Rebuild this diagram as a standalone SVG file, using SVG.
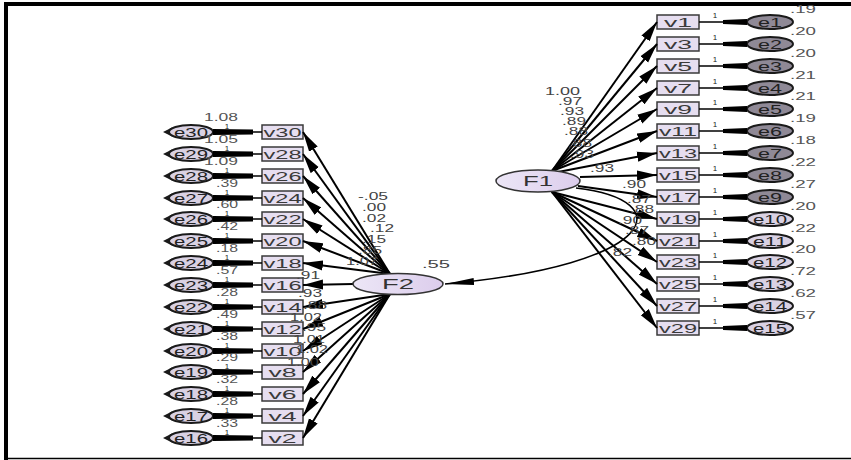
<svg xmlns="http://www.w3.org/2000/svg" width="851" height="460" viewBox="0 0 851 460">
<defs>
<style>
text{font-family:"Liberation Sans",Arial,sans-serif}
.box{fill:#e6def0;stroke:#3a3a3a;stroke-width:1.5}
.vt{font-size:13px;fill:#3a3a3a;text-anchor:middle}
.err{stroke:#1a1a1a;stroke-width:2}
.dk{fill:#8f8996}
.lt{fill:#d9d1e3}
.et{font-size:12px;fill:#222;text-anchor:middle}
.lat{fill:url(#lg);stroke:#333;stroke-width:1.5}
.lt2{font-size:14px;fill:#333;text-anchor:middle}
.one{font-size:8px;fill:#222;text-anchor:middle}
.num{font-size:10px;fill:#555}
.ld{font-size:10px;fill:#444}
.end{text-anchor:end}
.ln{stroke:#000;stroke-width:2;fill:none;marker-end:url(#ah)}
.cov{stroke:#000;stroke-width:1.5;fill:none;marker-end:url(#ah2)}
</style>
<linearGradient id="lg" x1="0" y1="0" x2="1" y2="0"><stop offset="0" stop-color="#ece6f6"/><stop offset="1" stop-color="#dccdec"/></linearGradient>
<marker id="ah" markerUnits="userSpaceOnUse" markerWidth="21" markerHeight="11" refX="20" refY="5.5" orient="auto"><path d="M0,0.5 L20,5.5 L0,10.5 Z" fill="#000"/></marker>
<marker id="ah2" markerUnits="userSpaceOnUse" markerWidth="30" markerHeight="8" refX="29" refY="4" orient="auto"><path d="M0,0.5 L29,4 L0,7.5 Z" fill="#000"/></marker>
<g id="cR"><line x1="699" y1="0" x2="723" y2="0" stroke="#000" stroke-width="1.5"/><polygon points="723,-2 747,-3 747,3 723,2" fill="#000"/></g>
<g id="cL"><polygon points="213,-3 253,-2.5 253,2.5 213,3" fill="#000"/><line x1="253" y1="0" x2="262" y2="0" stroke="#000" stroke-width="1.5"/></g>
</defs>

<g id="frame">
<rect x="4" y="2" width="847" height="4" fill="#000"/>
<rect x="4" y="2" width="4" height="458" fill="#000"/>
<line x1="4" y1="458.5" x2="851" y2="458.5" stroke="#000" stroke-width="1.5"/>
</g>

<!-- right observed variables -->
<g id="v1" transform="translate(657,15)"><rect class="box" width="42" height="14"/><text class="vt" x="21" y="12" textLength="28" lengthAdjust="spacingAndGlyphs">v1</text></g>
<g id="v3" transform="translate(657,37)"><rect class="box" width="42" height="14"/><text class="vt" x="21" y="12" textLength="28" lengthAdjust="spacingAndGlyphs">v3</text></g>
<g id="v5" transform="translate(657,59)"><rect class="box" width="42" height="14"/><text class="vt" x="21" y="12" textLength="28" lengthAdjust="spacingAndGlyphs">v5</text></g>
<g id="v7" transform="translate(657,81)"><rect class="box" width="42" height="14"/><text class="vt" x="21" y="12" textLength="28" lengthAdjust="spacingAndGlyphs">v7</text></g>
<g id="v9" transform="translate(657,102)"><rect class="box" width="42" height="14"/><text class="vt" x="21" y="12" textLength="28" lengthAdjust="spacingAndGlyphs">v9</text></g>
<g id="v11" transform="translate(657,124)"><rect class="box" width="42" height="14"/><text class="vt" x="21" y="12" textLength="38" lengthAdjust="spacingAndGlyphs">v11</text></g>
<g id="v13" transform="translate(657,146)"><rect class="box" width="42" height="14"/><text class="vt" x="21" y="12" textLength="38" lengthAdjust="spacingAndGlyphs">v13</text></g>
<g id="v15" transform="translate(657,168)"><rect class="box" width="42" height="14"/><text class="vt" x="21" y="12" textLength="38" lengthAdjust="spacingAndGlyphs">v15</text></g>
<g id="v17" transform="translate(657,190)"><rect class="box" width="42" height="14"/><text class="vt" x="21" y="12" textLength="38" lengthAdjust="spacingAndGlyphs">v17</text></g>
<g id="v19" transform="translate(657,212)"><rect class="box" width="42" height="14"/><text class="vt" x="21" y="12" textLength="38" lengthAdjust="spacingAndGlyphs">v19</text></g>
<g id="v21" transform="translate(657,234)"><rect class="box" width="42" height="14"/><text class="vt" x="21" y="12" textLength="38" lengthAdjust="spacingAndGlyphs">v21</text></g>
<g id="v23" transform="translate(657,255)"><rect class="box" width="42" height="14"/><text class="vt" x="21" y="12" textLength="38" lengthAdjust="spacingAndGlyphs">v23</text></g>
<g id="v25" transform="translate(657,277)"><rect class="box" width="42" height="14"/><text class="vt" x="21" y="12" textLength="38" lengthAdjust="spacingAndGlyphs">v25</text></g>
<g id="v27" transform="translate(657,299)"><rect class="box" width="42" height="14"/><text class="vt" x="21" y="12" textLength="38" lengthAdjust="spacingAndGlyphs">v27</text></g>
<g id="v29" transform="translate(657,321)"><rect class="box" width="42" height="14"/><text class="vt" x="21" y="12" textLength="38" lengthAdjust="spacingAndGlyphs">v29</text></g>

<!-- right errors -->
<g id="e1" transform="translate(770,22)"><ellipse class="err dk" rx="23" ry="7"/><text class="et" y="4.5" textLength="24" lengthAdjust="spacingAndGlyphs">e1</text></g>
<g id="e2" transform="translate(770,44)"><ellipse class="err dk" rx="23" ry="7"/><text class="et" y="4.5" textLength="24" lengthAdjust="spacingAndGlyphs">e2</text></g>
<g id="e3" transform="translate(770,66)"><ellipse class="err dk" rx="23" ry="7"/><text class="et" y="4.5" textLength="24" lengthAdjust="spacingAndGlyphs">e3</text></g>
<g id="e4" transform="translate(770,88)"><ellipse class="err dk" rx="23" ry="7"/><text class="et" y="4.5" textLength="24" lengthAdjust="spacingAndGlyphs">e4</text></g>
<g id="e5" transform="translate(770,109)"><ellipse class="err dk" rx="23" ry="7"/><text class="et" y="4.5" textLength="24" lengthAdjust="spacingAndGlyphs">e5</text></g>
<g id="e6" transform="translate(770,131)"><ellipse class="err dk" rx="23" ry="7"/><text class="et" y="4.5" textLength="24" lengthAdjust="spacingAndGlyphs">e6</text></g>
<g id="e7" transform="translate(770,153)"><ellipse class="err dk" rx="23" ry="7"/><text class="et" y="4.5" textLength="24" lengthAdjust="spacingAndGlyphs">e7</text></g>
<g id="e8" transform="translate(770,175)"><ellipse class="err dk" rx="23" ry="7"/><text class="et" y="4.5" textLength="24" lengthAdjust="spacingAndGlyphs">e8</text></g>
<g id="e9" transform="translate(770,197)"><ellipse class="err dk" rx="23" ry="7"/><text class="et" y="4.5" textLength="24" lengthAdjust="spacingAndGlyphs">e9</text></g>
<g id="e10" transform="translate(770,219)"><ellipse class="err lt" rx="23" ry="7"/><text class="et" y="4.5" textLength="34" lengthAdjust="spacingAndGlyphs">e10</text></g>
<g id="e11" transform="translate(770,241)"><ellipse class="err lt" rx="23" ry="7"/><text class="et" y="4.5" textLength="34" lengthAdjust="spacingAndGlyphs">e11</text></g>
<g id="e12" transform="translate(770,262)"><ellipse class="err lt" rx="23" ry="7"/><text class="et" y="4.5" textLength="34" lengthAdjust="spacingAndGlyphs">e12</text></g>
<g id="e13" transform="translate(770,284)"><ellipse class="err lt" rx="23" ry="7"/><text class="et" y="4.5" textLength="34" lengthAdjust="spacingAndGlyphs">e13</text></g>
<g id="e14" transform="translate(770,306)"><ellipse class="err lt" rx="23" ry="7"/><text class="et" y="4.5" textLength="34" lengthAdjust="spacingAndGlyphs">e14</text></g>
<g id="e15" transform="translate(770,328)"><ellipse class="err lt" rx="23" ry="7"/><text class="et" y="4.5" textLength="34" lengthAdjust="spacingAndGlyphs">e15</text></g>

<!-- left observed variables -->
<g id="v30" transform="translate(262,125)"><rect class="box" width="41" height="14"/><text class="vt" x="20.5" y="12" textLength="38" lengthAdjust="spacingAndGlyphs">v30</text></g>
<g id="v28" transform="translate(262,147)"><rect class="box" width="41" height="14"/><text class="vt" x="20.5" y="12" textLength="38" lengthAdjust="spacingAndGlyphs">v28</text></g>
<g id="v26" transform="translate(262,169)"><rect class="box" width="41" height="14"/><text class="vt" x="20.5" y="12" textLength="38" lengthAdjust="spacingAndGlyphs">v26</text></g>
<g id="v24" transform="translate(262,191)"><rect class="box" width="41" height="14"/><text class="vt" x="20.5" y="12" textLength="38" lengthAdjust="spacingAndGlyphs">v24</text></g>
<g id="v22" transform="translate(262,212)"><rect class="box" width="41" height="14"/><text class="vt" x="20.5" y="12" textLength="38" lengthAdjust="spacingAndGlyphs">v22</text></g>
<g id="v20" transform="translate(262,234)"><rect class="box" width="41" height="14"/><text class="vt" x="20.5" y="12" textLength="38" lengthAdjust="spacingAndGlyphs">v20</text></g>
<g id="v18" transform="translate(262,256)"><rect class="box" width="41" height="14"/><text class="vt" x="20.5" y="12" textLength="38" lengthAdjust="spacingAndGlyphs">v18</text></g>
<g id="v16" transform="translate(262,278)"><rect class="box" width="41" height="14"/><text class="vt" x="20.5" y="12" textLength="38" lengthAdjust="spacingAndGlyphs">v16</text></g>
<g id="v14" transform="translate(262,300)"><rect class="box" width="41" height="14"/><text class="vt" x="20.5" y="12" textLength="38" lengthAdjust="spacingAndGlyphs">v14</text></g>
<g id="v12" transform="translate(262,322)"><rect class="box" width="41" height="14"/><text class="vt" x="20.5" y="12" textLength="38" lengthAdjust="spacingAndGlyphs">v12</text></g>
<g id="v10" transform="translate(262,344)"><rect class="box" width="41" height="14"/><text class="vt" x="20.5" y="12" textLength="38" lengthAdjust="spacingAndGlyphs">v10</text></g>
<g id="v8" transform="translate(262,365)"><rect class="box" width="41" height="14"/><text class="vt" x="20.5" y="12" textLength="28" lengthAdjust="spacingAndGlyphs">v8</text></g>
<g id="v6" transform="translate(262,387)"><rect class="box" width="41" height="14"/><text class="vt" x="20.5" y="12" textLength="28" lengthAdjust="spacingAndGlyphs">v6</text></g>
<g id="v4" transform="translate(262,409)"><rect class="box" width="41" height="14"/><text class="vt" x="20.5" y="12" textLength="28" lengthAdjust="spacingAndGlyphs">v4</text></g>
<g id="v2" transform="translate(262,431)"><rect class="box" width="41" height="14"/><text class="vt" x="20.5" y="12" textLength="28" lengthAdjust="spacingAndGlyphs">v2</text></g>

<!-- left errors -->
<g id="e30" transform="translate(191,132)"><polygon points="-28,0 -19,-4.5 -19,4.5" fill="#1a1a1a"/><ellipse class="err lt" rx="22" ry="7"/><text class="et" y="4.5" textLength="34" lengthAdjust="spacingAndGlyphs">e30</text></g>
<g id="e29" transform="translate(191,154)"><polygon points="-28,0 -19,-4.5 -19,4.5" fill="#1a1a1a"/><ellipse class="err lt" rx="22" ry="7"/><text class="et" y="4.5" textLength="34" lengthAdjust="spacingAndGlyphs">e29</text></g>
<g id="e28" transform="translate(191,176)"><polygon points="-28,0 -19,-4.5 -19,4.5" fill="#1a1a1a"/><ellipse class="err lt" rx="22" ry="7"/><text class="et" y="4.5" textLength="34" lengthAdjust="spacingAndGlyphs">e28</text></g>
<g id="e27" transform="translate(191,198)"><polygon points="-28,0 -19,-4.5 -19,4.5" fill="#1a1a1a"/><ellipse class="err lt" rx="22" ry="7"/><text class="et" y="4.5" textLength="34" lengthAdjust="spacingAndGlyphs">e27</text></g>
<g id="e26" transform="translate(191,219)"><polygon points="-28,0 -19,-4.5 -19,4.5" fill="#1a1a1a"/><ellipse class="err lt" rx="22" ry="7"/><text class="et" y="4.5" textLength="34" lengthAdjust="spacingAndGlyphs">e26</text></g>
<g id="e25" transform="translate(191,241)"><polygon points="-28,0 -19,-4.5 -19,4.5" fill="#1a1a1a"/><ellipse class="err lt" rx="22" ry="7"/><text class="et" y="4.5" textLength="34" lengthAdjust="spacingAndGlyphs">e25</text></g>
<g id="e24" transform="translate(191,263)"><polygon points="-28,0 -19,-4.5 -19,4.5" fill="#1a1a1a"/><ellipse class="err lt" rx="22" ry="7"/><text class="et" y="4.5" textLength="34" lengthAdjust="spacingAndGlyphs">e24</text></g>
<g id="e23" transform="translate(191,285)"><polygon points="-28,0 -19,-4.5 -19,4.5" fill="#1a1a1a"/><ellipse class="err lt" rx="22" ry="7"/><text class="et" y="4.5" textLength="34" lengthAdjust="spacingAndGlyphs">e23</text></g>
<g id="e22" transform="translate(191,307)"><polygon points="-28,0 -19,-4.5 -19,4.5" fill="#1a1a1a"/><ellipse class="err lt" rx="22" ry="7"/><text class="et" y="4.5" textLength="34" lengthAdjust="spacingAndGlyphs">e22</text></g>
<g id="e21" transform="translate(191,329)"><polygon points="-28,0 -19,-4.5 -19,4.5" fill="#1a1a1a"/><ellipse class="err lt" rx="22" ry="7"/><text class="et" y="4.5" textLength="34" lengthAdjust="spacingAndGlyphs">e21</text></g>
<g id="e20" transform="translate(191,351)"><polygon points="-28,0 -19,-4.5 -19,4.5" fill="#1a1a1a"/><ellipse class="err lt" rx="22" ry="7"/><text class="et" y="4.5" textLength="34" lengthAdjust="spacingAndGlyphs">e20</text></g>
<g id="e19" transform="translate(191,372)"><polygon points="-28,0 -19,-4.5 -19,4.5" fill="#1a1a1a"/><ellipse class="err lt" rx="22" ry="7"/><text class="et" y="4.5" textLength="34" lengthAdjust="spacingAndGlyphs">e19</text></g>
<g id="e18" transform="translate(191,394)"><polygon points="-28,0 -19,-4.5 -19,4.5" fill="#1a1a1a"/><ellipse class="err lt" rx="22" ry="7"/><text class="et" y="4.5" textLength="34" lengthAdjust="spacingAndGlyphs">e18</text></g>
<g id="e17" transform="translate(191,416)"><polygon points="-28,0 -19,-4.5 -19,4.5" fill="#1a1a1a"/><ellipse class="err lt" rx="22" ry="7"/><text class="et" y="4.5" textLength="34" lengthAdjust="spacingAndGlyphs">e17</text></g>
<g id="e16" transform="translate(191,438)"><polygon points="-28,0 -19,-4.5 -19,4.5" fill="#1a1a1a"/><ellipse class="err lt" rx="22" ry="7"/><text class="et" y="4.5" textLength="34" lengthAdjust="spacingAndGlyphs">e16</text></g>

<g id="connectors">
<!-- F1 loadings -->
<line class="ln" x1="552" y1="171" x2="657" y2="22"/>
<line class="ln" x1="552" y1="171" x2="657" y2="44"/>
<line class="ln" x1="552" y1="171" x2="657" y2="66"/>
<line class="ln" x1="552" y1="171" x2="657" y2="88"/>
<line class="ln" x1="552" y1="171" x2="657" y2="109"/>
<line class="ln" x1="552" y1="171" x2="657" y2="131"/>
<line class="ln" x1="558" y1="172" x2="657" y2="153"/>
<line class="ln" x1="580" y1="177" x2="657" y2="175"/>
<line class="ln" x1="578" y1="186" x2="657" y2="197"/>
<line class="ln" x1="552" y1="192" x2="657" y2="219"/>
<line class="ln" x1="552" y1="192" x2="657" y2="241"/>
<line class="ln" x1="552" y1="192" x2="657" y2="262"/>
<line class="ln" x1="552" y1="192" x2="657" y2="284"/>
<line class="ln" x1="552" y1="192" x2="657" y2="306"/>
<line class="ln" x1="552" y1="192" x2="657" y2="328"/>
<!-- F2 loadings -->
<line class="ln" x1="390" y1="274" x2="303" y2="132"/>
<line class="ln" x1="390" y1="274" x2="303" y2="154"/>
<line class="ln" x1="390" y1="274" x2="303" y2="176"/>
<line class="ln" x1="390" y1="274" x2="303" y2="198"/>
<line class="ln" x1="390" y1="274" x2="303" y2="219"/>
<line class="ln" x1="390" y1="274" x2="303" y2="241"/>
<line class="ln" x1="390" y1="274" x2="303" y2="263"/>
<line class="ln" x1="353" y1="284" x2="303" y2="285"/>
<line class="ln" x1="390" y1="294" x2="303" y2="307"/>
<line class="ln" x1="390" y1="294" x2="303" y2="329"/>
<line class="ln" x1="390" y1="294" x2="303" y2="351"/>
<line class="ln" x1="390" y1="294" x2="303" y2="372"/>
<line class="ln" x1="390" y1="294" x2="303" y2="394"/>
<line class="ln" x1="390" y1="294" x2="303" y2="416"/>
<line class="ln" x1="390" y1="294" x2="303" y2="438"/>
<!-- covariance -->
<path class="cov" d="M576,188 C680,200 660,265 445,284"/>
<!-- error paths right -->
<use href="#cR" y="22"/><use href="#cR" y="44"/><use href="#cR" y="66"/><use href="#cR" y="88"/><use href="#cR" y="109"/>
<use href="#cR" y="131"/><use href="#cR" y="153"/><use href="#cR" y="175"/><use href="#cR" y="197"/><use href="#cR" y="219"/>
<use href="#cR" y="241"/><use href="#cR" y="262"/><use href="#cR" y="284"/><use href="#cR" y="306"/><use href="#cR" y="328"/>
<!-- error paths left -->
<use href="#cL" y="132"/><use href="#cL" y="154"/><use href="#cL" y="176"/><use href="#cL" y="198"/><use href="#cL" y="219"/>
<use href="#cL" y="241"/><use href="#cL" y="263"/><use href="#cL" y="285"/><use href="#cL" y="307"/><use href="#cL" y="329"/>
<use href="#cL" y="351"/><use href="#cL" y="372"/><use href="#cL" y="394"/><use href="#cL" y="416"/><use href="#cL" y="438"/>
</g>

<g id="labels">
<!-- fixed paths "1" right -->
<text class="one" x="715" y="18">1</text><text class="one" x="715" y="40">1</text><text class="one" x="715" y="62">1</text>
<text class="one" x="715" y="84">1</text><text class="one" x="715" y="105">1</text><text class="one" x="715" y="127">1</text>
<text class="one" x="715" y="149">1</text><text class="one" x="715" y="171">1</text><text class="one" x="715" y="193">1</text>
<text class="one" x="715" y="215">1</text><text class="one" x="715" y="237">1</text><text class="one" x="715" y="258">1</text>
<text class="one" x="715" y="280">1</text><text class="one" x="715" y="302">1</text><text class="one" x="715" y="324">1</text>
<!-- fixed paths "1" left -->
<text class="one" x="227" y="128.5">1</text><text class="one" x="227" y="150.5">1</text><text class="one" x="227" y="172.5">1</text>
<text class="one" x="227" y="194.5">1</text><text class="one" x="227" y="215.5">1</text><text class="one" x="227" y="237.5">1</text>
<text class="one" x="227" y="259.5">1</text><text class="one" x="227" y="281.5">1</text><text class="one" x="227" y="303.5">1</text>
<text class="one" x="227" y="325.5">1</text><text class="one" x="227" y="347.5">1</text><text class="one" x="227" y="368.5">1</text>
<text class="one" x="227" y="390.5">1</text><text class="one" x="227" y="412.5">1</text><text class="one" x="227" y="434.5">1</text>
<!-- right variances -->
<text class="num" x="790" y="13" textLength="26" lengthAdjust="spacingAndGlyphs">.19</text>
<text class="num" x="790" y="35" textLength="26" lengthAdjust="spacingAndGlyphs">.20</text>
<text class="num" x="790" y="57" textLength="26" lengthAdjust="spacingAndGlyphs">.20</text>
<text class="num" x="790" y="79" textLength="26" lengthAdjust="spacingAndGlyphs">.21</text>
<text class="num" x="790" y="100" textLength="26" lengthAdjust="spacingAndGlyphs">.21</text>
<text class="num" x="790" y="122" textLength="26" lengthAdjust="spacingAndGlyphs">.19</text>
<text class="num" x="790" y="144" textLength="26" lengthAdjust="spacingAndGlyphs">.18</text>
<text class="num" x="790" y="166" textLength="26" lengthAdjust="spacingAndGlyphs">.22</text>
<text class="num" x="790" y="188" textLength="26" lengthAdjust="spacingAndGlyphs">.27</text>
<text class="num" x="790" y="210" textLength="26" lengthAdjust="spacingAndGlyphs">.20</text>
<text class="num" x="790" y="232" textLength="26" lengthAdjust="spacingAndGlyphs">.22</text>
<text class="num" x="790" y="253" textLength="26" lengthAdjust="spacingAndGlyphs">.20</text>
<text class="num" x="790" y="275" textLength="26" lengthAdjust="spacingAndGlyphs">.72</text>
<text class="num" x="790" y="297" textLength="26" lengthAdjust="spacingAndGlyphs">.62</text>
<text class="num" x="790" y="319" textLength="26" lengthAdjust="spacingAndGlyphs">.57</text>
<!-- left variances -->
<text class="num end" x="238" y="121" textLength="34" lengthAdjust="spacingAndGlyphs">1.08</text>
<text class="num end" x="238" y="143" textLength="34" lengthAdjust="spacingAndGlyphs">1.05</text>
<text class="num end" x="238" y="165" textLength="34" lengthAdjust="spacingAndGlyphs">1.09</text>
<text class="num end" x="238" y="187" textLength="22" lengthAdjust="spacingAndGlyphs">.39</text>
<text class="num end" x="238" y="208" textLength="22" lengthAdjust="spacingAndGlyphs">.60</text>
<text class="num end" x="238" y="230" textLength="22" lengthAdjust="spacingAndGlyphs">.42</text>
<text class="num end" x="238" y="252" textLength="22" lengthAdjust="spacingAndGlyphs">.18</text>
<text class="num end" x="238" y="274" textLength="22" lengthAdjust="spacingAndGlyphs">.57</text>
<text class="num end" x="238" y="296" textLength="22" lengthAdjust="spacingAndGlyphs">.28</text>
<text class="num end" x="238" y="318" textLength="22" lengthAdjust="spacingAndGlyphs">.49</text>
<text class="num end" x="238" y="340" textLength="22" lengthAdjust="spacingAndGlyphs">.38</text>
<text class="num end" x="238" y="361" textLength="22" lengthAdjust="spacingAndGlyphs">.29</text>
<text class="num end" x="238" y="383" textLength="22" lengthAdjust="spacingAndGlyphs">.32</text>
<text class="num end" x="238" y="405" textLength="22" lengthAdjust="spacingAndGlyphs">.28</text>
<text class="num end" x="238" y="427" textLength="22" lengthAdjust="spacingAndGlyphs">.33</text>
<!-- F1 loadings -->
<text class="ld" x="545" y="95" textLength="35" lengthAdjust="spacingAndGlyphs">1.00</text>
<text class="ld" x="558" y="105" textLength="24" lengthAdjust="spacingAndGlyphs">.97</text>
<text class="ld" x="560" y="115" textLength="24" lengthAdjust="spacingAndGlyphs">.93</text>
<text class="ld" x="562" y="125" textLength="24" lengthAdjust="spacingAndGlyphs">.89</text>
<text class="ld" x="564" y="135" textLength="24" lengthAdjust="spacingAndGlyphs">.88</text>
<text class="ld" x="568" y="147" textLength="24" lengthAdjust="spacingAndGlyphs">.88</text>
<text class="ld" x="570" y="158" textLength="24" lengthAdjust="spacingAndGlyphs">.93</text>
<text class="ld" x="590" y="172" textLength="24" lengthAdjust="spacingAndGlyphs">.93</text>
<text class="ld" x="622" y="188" textLength="24" lengthAdjust="spacingAndGlyphs">.90</text>
<text class="ld" x="627" y="203" textLength="24" lengthAdjust="spacingAndGlyphs">.87</text>
<text class="ld" x="630" y="213" textLength="24" lengthAdjust="spacingAndGlyphs">.88</text>
<text class="ld" x="618" y="224" textLength="24" lengthAdjust="spacingAndGlyphs">.90</text>
<text class="ld" x="625" y="234" textLength="24" lengthAdjust="spacingAndGlyphs">.87</text>
<text class="ld" x="632" y="245" textLength="24" lengthAdjust="spacingAndGlyphs">.80</text>
<text class="ld" x="608" y="256" textLength="24" lengthAdjust="spacingAndGlyphs">.82</text>
<!-- F2 loadings -->
<text class="ld" x="358" y="200" textLength="30" lengthAdjust="spacingAndGlyphs">-.05</text>
<text class="ld" x="362" y="211" textLength="24" lengthAdjust="spacingAndGlyphs">.00</text>
<text class="ld" x="362" y="222" textLength="24" lengthAdjust="spacingAndGlyphs">.02</text>
<text class="ld" x="370" y="232" textLength="24" lengthAdjust="spacingAndGlyphs">.12</text>
<text class="ld" x="362" y="243" textLength="24" lengthAdjust="spacingAndGlyphs">.15</text>
<text class="ld" x="358" y="254" textLength="24" lengthAdjust="spacingAndGlyphs">.85</text>
<text class="ld" x="346" y="265" textLength="32" lengthAdjust="spacingAndGlyphs">1.07</text>
<text class="ld" x="296" y="279" textLength="24" lengthAdjust="spacingAndGlyphs">.91</text>
<text class="ld" x="298" y="297" textLength="24" lengthAdjust="spacingAndGlyphs">.93</text>
<text class="ld" x="303" y="309" textLength="24" lengthAdjust="spacingAndGlyphs">.88</text>
<text class="ld" x="290" y="321" textLength="32" lengthAdjust="spacingAndGlyphs">1.02</text>
<text class="ld" x="302" y="331" textLength="24" lengthAdjust="spacingAndGlyphs">.95</text>
<text class="ld" x="293" y="343" textLength="32" lengthAdjust="spacingAndGlyphs">1.01</text>
<text class="ld" x="296" y="353" textLength="32" lengthAdjust="spacingAndGlyphs">1.02</text>
<text class="ld" x="287" y="366" textLength="32" lengthAdjust="spacingAndGlyphs">1.00</text>
<!-- covariance -->
<text class="ld" x="422" y="268" textLength="28" lengthAdjust="spacingAndGlyphs">.55</text>
</g>

<!-- latent factors -->
<g id="F1"><ellipse class="lat" cx="538" cy="181" rx="42" ry="11"/><text class="lt2" x="538" y="186" textLength="30" lengthAdjust="spacingAndGlyphs">F1</text></g>
<g id="F2"><ellipse class="lat" cx="398" cy="284" rx="45" ry="10.5"/><text class="lt2" x="398" y="289" textLength="32" lengthAdjust="spacingAndGlyphs">F2</text></g>
</svg>
